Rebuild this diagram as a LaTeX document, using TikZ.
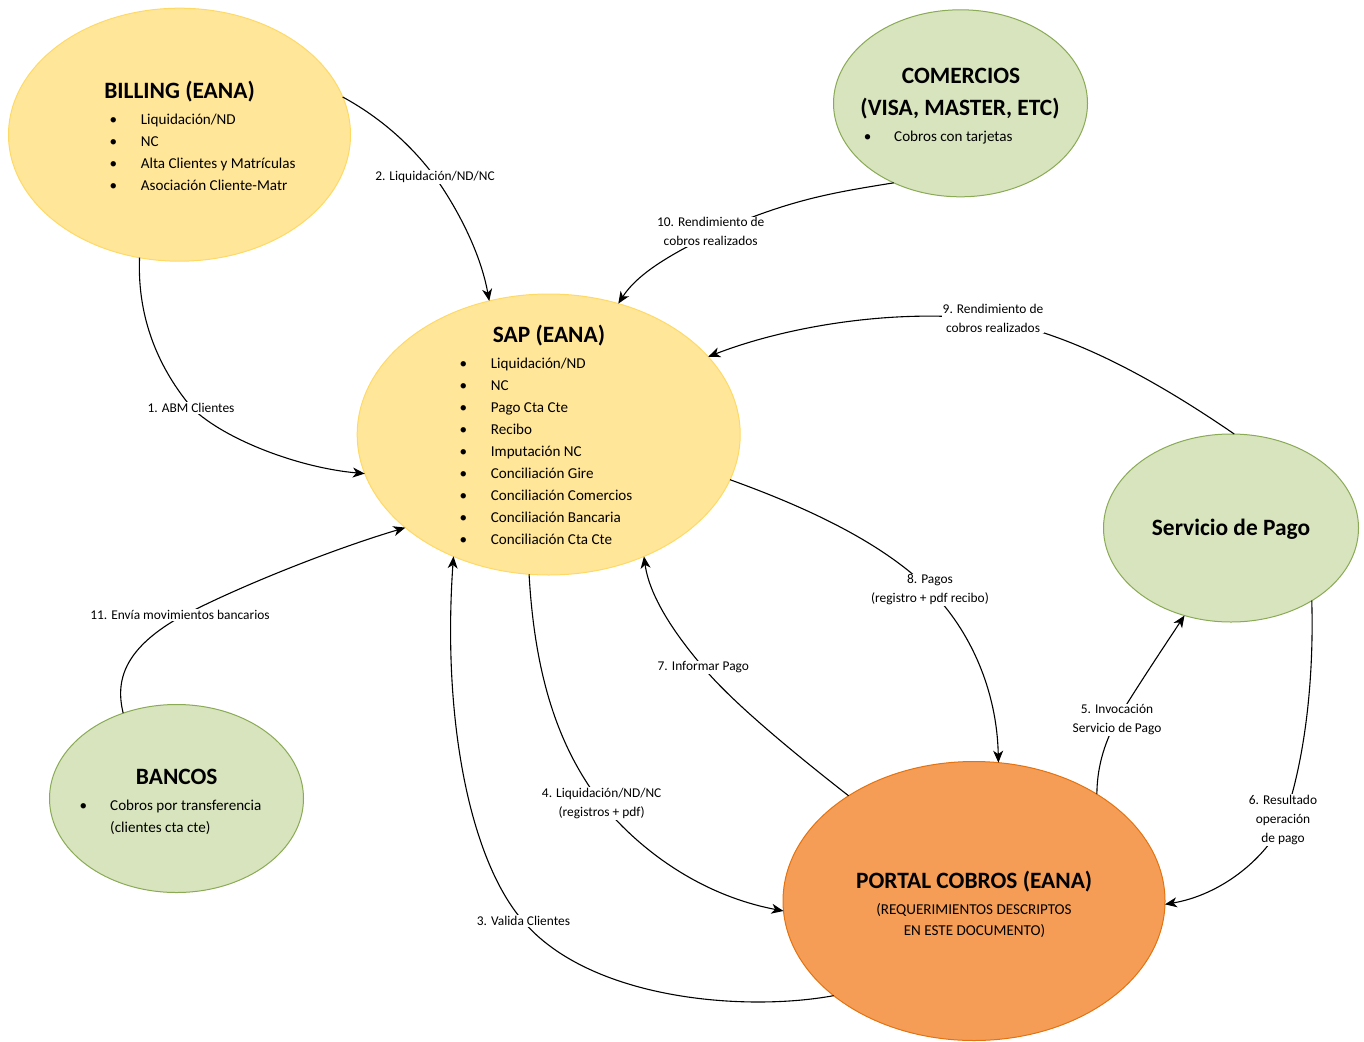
\documentclass[tikz,border=0pt]{standalone}
\usepackage{fontspec}
\setmainfont{Carlito}
\usetikzlibrary{arrows.meta,shapes.geometric}
\definecolor{yfill}{HTML}{FFE699}
\definecolor{ydraw}{HTML}{FFD966}
\definecolor{gfill}{HTML}{D7E4BD}
\definecolor{gdraw}{HTML}{8AAA55}
\definecolor{ofill}{HTML}{F59D56}
\definecolor{odraw}{HTML}{E3720F}
\begin{document}
\begin{tikzpicture}[x=1pt,y=-1pt,
  blob/.style={ellipse, line width=1pt, inner sep=0pt, outer sep=0pt},
  yblob/.style={blob, fill=yfill, draw=ydraw},
  gblob/.style={blob, fill=gfill, draw=gdraw},
  oblob/.style={blob, fill=ofill, draw=odraw},
  ttl/.style={font=\fontsize{23.4}{28}\selectfont\bfseries, inner sep=0pt, text height=15.07pt, text depth=0pt, anchor=center},
  itm/.style={font=\fontsize{15.1}{18}\selectfont, inner sep=0pt, text height=9.72pt, text depth=0pt, anchor=west},
  ctr/.style={itm, anchor=center},
  bul/.style={itm, anchor=center},
  lbl/.style={font=\fontsize{13.4}{19}\selectfont, fill=white, inner sep=1pt, outer sep=0pt, align=center},
  conn/.style={line width=1.1pt, -{Stealth[length=12pt,width=10pt,inset=3.5pt]}},
]
\useasboundingbox (0,0) rectangle (1364,1041);

% ---------- ellipses ----------
\node[yblob, minimum width=342pt, minimum height=253pt] (billing) at (179.5,134.7) {};
\node[gblob, minimum width=254pt, minimum height=187pt] (comercios) at (960.5,103.3) {};
\node[yblob, minimum width=383pt, minimum height=281pt] (sap) at (548.7,434.5) {};
\node[gblob, minimum width=255pt, minimum height=188pt] (servicio) at (1231,528) {};
\node[gblob, minimum width=254pt, minimum height=188pt] (bancos) at (176.5,798.5) {};
\node[oblob, minimum width=382pt, minimum height=279pt] (portal) at (974,901) {};

% ---------- connectors ----------
\coordinate (c1) at (192,408);
\draw[conn] (billing.-108.9) .. controls (137,320) and (160,370) .. (c1) .. controls (225,440) and (300,468) .. (sap.192.3);
\coordinate (c2) at (435,177);
\draw[conn] (billing.13) .. controls (385,120) and (415,150) .. (c2) .. controls (455,205) and (480,250) .. (sap.114.3);
\coordinate (c10) at (718,231);
\draw[conn] (comercios.-130) .. controls (830,193) and (790,200) .. (c10) .. controls (680,250) and (640,270) .. (sap.62.9);
\coordinate (c9) at (993,320);
\draw[conn] (servicio.88) .. controls (1170,390) and (1080,335) .. (c9) .. controls (900,308) and (790,325) .. (sap.26.4);
\coordinate (c8) at (930,590);
\draw[conn] (sap.-14.3) .. controls (800,505) and (880,540) .. (c8) .. controls (970,630) and (997,690) .. (portal.80.7);
\coordinate (c7) at (703,667);
\draw[conn] (portal.140.5) .. controls (790,750) and (730,700) .. (c7) .. controls (680,640) and (650,600) .. (sap.-52);
\coordinate (c4) at (602,804);
\draw[conn] (sap.-98.9) .. controls (535,680) and (560,750) .. (c4) .. controls (640,850) and (700,895) .. (portal.183.3);
\coordinate (c3) at (523,921);
\draw[conn] (portal.214.6) .. controls (745,1012) and (590,1000) .. (c3) .. controls (470,860) and (442,720) .. (sap.-128.3);
\coordinate (c11) at (175,620);
\draw[conn] (bancos.122.7) .. controls (115,680) and (125,650) .. (c11) .. controls (230,590) and (330,550) .. (sap.-147.4);
\coordinate (c5) at (1117,720);
\draw[conn] (portal.41.2) .. controls (1097,770) and (1103,745) .. (c5) .. controls (1135,690) and (1165,645) .. (servicio.-118.3);
\coordinate (c6) at (1284,820);
\draw[conn] (servicio.-42) .. controls (1314,680) and (1305,760) .. (c6) .. controls (1265,860) and (1220,895) .. (portal.-1);

% ---------- connector labels ----------
\node[lbl] (l1) at (191,408) {1. ABM Clientes};
\node[lbl] (l2) at (435,177) {2. Liquidación/ND/NC};
\node[lbl] (l3) at (523.5,921) {3. Valida Clientes};
\node[lbl] (l4) at (601.7,803.5) {4. Liquidación/ND/NC\\(registros + pdf)};
\node[lbl] (l5) at (1117,720) {5. Invocación\\Servicio de Pago};
\node[lbl] (l6) at (1283,820) {6. Resultado\\operación\\de pago};
\node[lbl] (l7) at (703.3,667.5) {7. Informar Pago};
\node[lbl] (l8) at (930,590) {8. Pagos\\(registro + pdf recibo)};
\node[lbl] (l9) at (993,318) {9. Rendimiento de\\cobros realizados};
\node[lbl] (l10) at (710.7,231.8) {10. Rendimiento de\\cobros realizados};
\node[lbl] (l11) at (180,615) {11. Envía movimientos bancarios};

% ---------- BILLING ----------
\node[ttl] (tbilling) at (179.5,91.3) {BILLING (EANA)};
\foreach \t [count=\i from 0] in {Liquidación/ND,NC,Alta Clientes y Matrículas,Asociación Cliente-Matr}{
  \node[bul] (bb\i) at (113.3,119.5+22.2*\i) {•};
  \node[itm] (bi\i) at (140.7,119.5+22.2*\i) {\t};
}

% ---------- SAP ----------
\node[ttl] (tsap) at (549,335.3) {SAP (EANA)};
\foreach \t [count=\i from 0] in {Liquidación/ND,NC,Pago Cta Cte,Recibo,Imputación NC,Conciliación Gire,Conciliación Comercios,Conciliación Bancaria,Conciliación Cta Cte}{
  \node[bul] (sb\i) at (463.3,363.3+22.08*\i) {•};
  \node[itm] (si\i) at (490.7,363.3+22.08*\i) {\t};
}

% ---------- COMERCIOS ----------
\node[ttl] (tcom1) at (961,76.3) {COMERCIOS};
\node[ttl] (tcom2) at (960,108.3) {(VISA, MASTER, ETC)};
\node[bul] (cb0) at (867.7,137) {•};
\node[itm] (ci0) at (894,137) {Cobros con tarjetas};

% ---------- Servicio de Pago ----------
\node[ttl] (tserv) at (1231,527.5) {Servicio de Pago};

% ---------- BANCOS ----------
\node[ttl] (tban) at (176.7,777.2) {BANCOS};
\node[bul] (nb0) at (83.3,806) {•};
\node[itm] (ni0) at (110,806) {Cobros por transferencia};
\node[itm] (ni1) at (110,828) {(clientes cta cte)};

% ---------- PORTAL ----------
\node[ttl] (tportal) at (974.2,881.3) {PORTAL COBROS (EANA)};
\node[ctr] (pi0) at (974,909.5) {(REQUERIMIENTOS DESCRIPTOS};
\node[ctr] (pi1) at (974.5,931) {EN ESTE DOCUMENTO)};
\end{tikzpicture}
\end{document}
